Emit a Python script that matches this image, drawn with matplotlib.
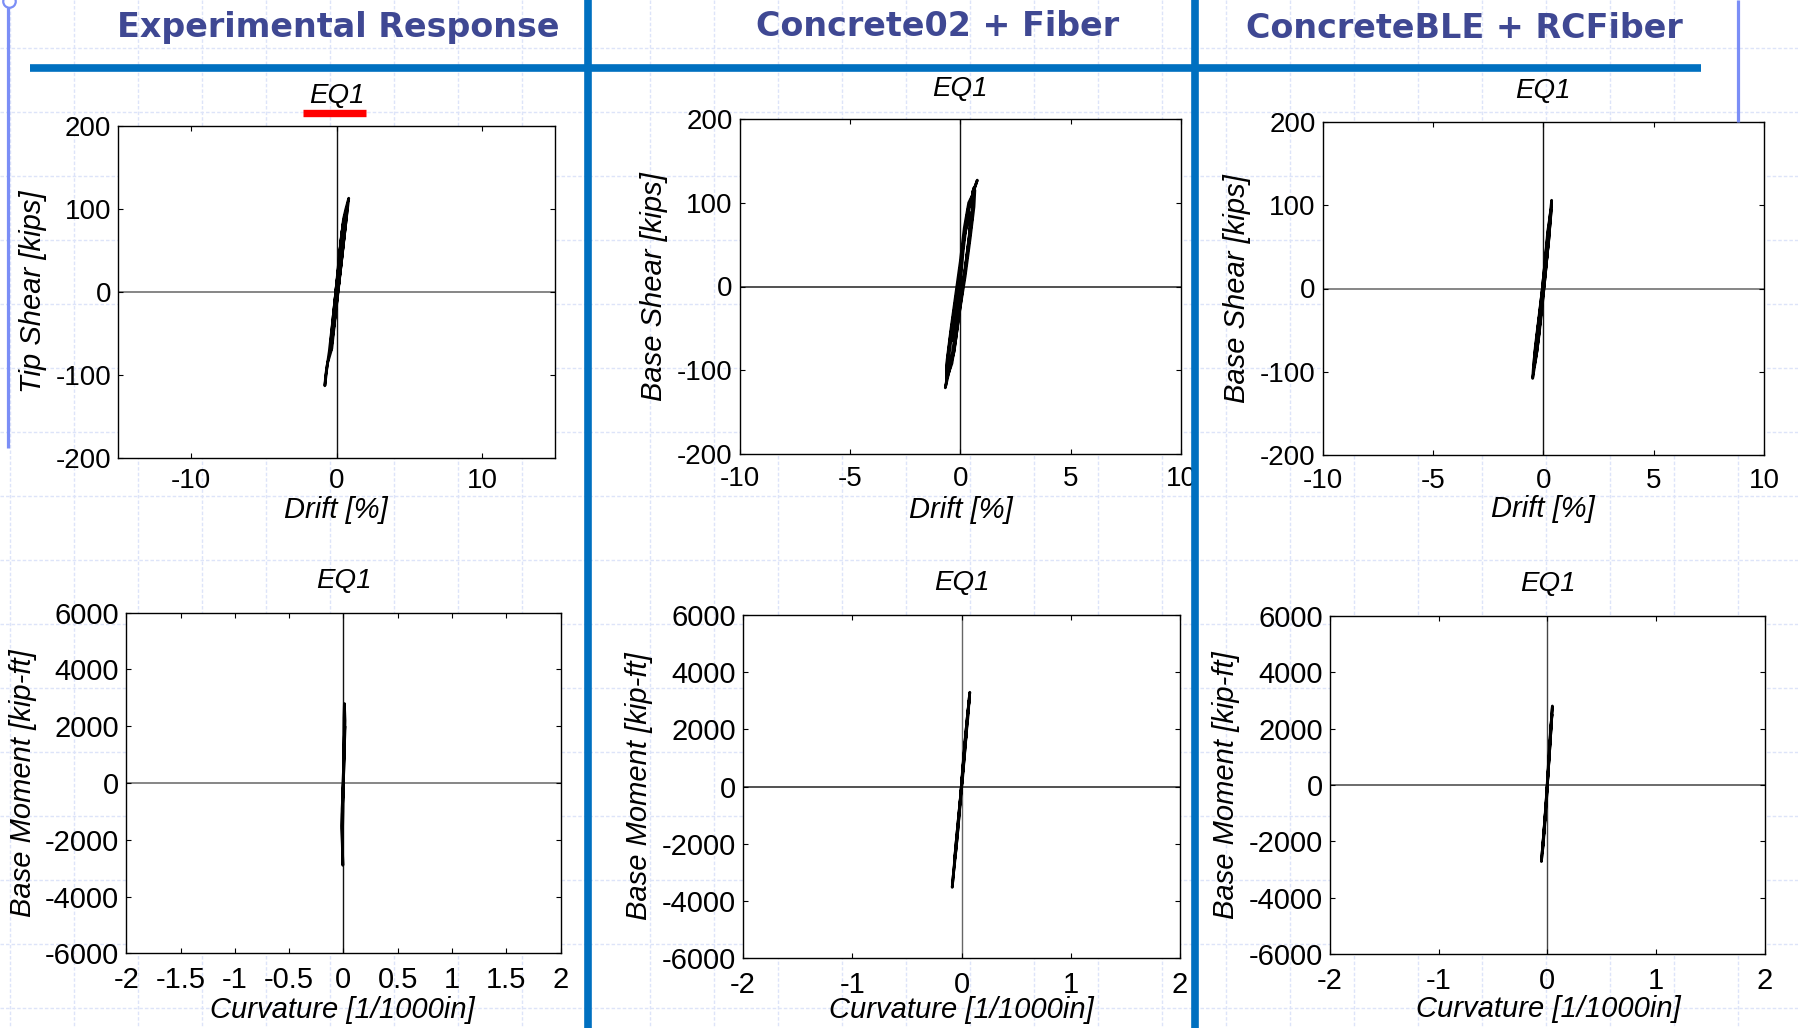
import matplotlib
matplotlib.use('Agg')
import matplotlib.pyplot as plt
from matplotlib.lines import Line2D

W, H = 1798, 1028
plt.rcParams['font.family'] = ['Liberation Sans', 'DejaVu Sans']
plt.rcParams['axes.unicode_minus'] = False

# ---------------- data ----------------
section_titles = ['Experimental Response', 'Concrete02 + Fiber', 'ConcreteBLE + RCFiber']
panel_title = 'EQ1'

# Experimental: drift [%] vs tip shear [kips]
exp_drift = [0, 0.22, 0.48, 0.64, 0.84, 0.72, 0.45, 0.12, -0.12, -0.32, -0.62, -0.80, -0.74, -0.5,
             -0.28, -0.05, 0.2, 0.45, 0.75, 0.68, 0.4, 0.08, -0.18, -0.38, -0.4, -0.2, 0.08, 0.35,
             0.65, 0.6, 0.3, -0.02, -0.3, -0.28, -0.02, 0.22, 0.2, 0.02, 0]
exp_shear = [0, 48, 88, 100, 113, 95, 55, 5, -35, -68, -86, -113, -100, -72,
             -38, 0, 45, 82, 104, 90, 45, -2, -42, -70, -62, -25, 20, 70,
             98, 80, 30, -20, -55, -45, 5, 40, 15, -8, 0]

# Concrete02 + Fiber: drift vs base shear
c02_drift = [0, 0.12, 0.3, 0.5, 0.77, 0.7, 0.55, 0.62, 0.58, 0.4, 0.2, -0.05, -0.25, -0.45,
             -0.68, -0.62, -0.6, -0.42, -0.2, 0.0, 0.18, 0.38, 0.66, 0.62, 0.45, 0.22, -0.02,
             -0.2, -0.38, -0.62, -0.62, -0.45, -0.22, 0.02, 0.2, 0.35, 0.58, 0.55, 0.35, 0.12,
             -0.1, -0.28, -0.52, -0.5, -0.28, -0.02, 0.18, 0.45, 0.42, 0.22, 0.0, -0.3, -0.28, 0]
c02_shear = [0, 40, 80, 105, 127, 122, 112, 118, 100, 60, 15, -25, -60, -95,
             -121, -112, -88, -50, -8, 30, 70, 100, 115, 95, 58, 12, -28,
             -62, -92, -110, -96, -60, -18, 25, 65, 92, 108, 85, 45, 0,
             -42, -78, -100, -80, -35, 18, 60, 88, 62, 22, -20, -65, -48, 0]

# ConcreteBLE + RCFiber: drift vs base shear
ble_drift = [0, 0.12, 0.24, 0.38, 0.36, 0.25, 0.1, -0.05, -0.2, -0.34, -0.48, -0.45, -0.36, -0.2,
             -0.04, 0.08, 0.2, 0.35, 0.32, 0.18, 0.03, -0.14, -0.28, -0.42, -0.4, -0.24, -0.06,
             0.1, 0.25, 0.26, 0.1, -0.06, -0.22, -0.35, -0.26, 0]
ble_shear = [0, 35, 70, 106, 92, 62, 18, -22, -58, -85, -108, -96, -70, -35,
             0, 32, 68, 95, 80, 40, 0, -40, -75, -95, -82, -48, -5,
             38, 75, 60, 22, -18, -60, -80, -50, 0]

# Experimental: curvature [1/1000in] vs base moment [kip-ft]
exp_curv = [0, 0.005, 0.012, 0.015, 0.009, 0.005, 0.003, 0.001, -0.004, -0.012, -0.015, -0.010,
            -0.005, -0.008, -0.012, -0.008, -0.002, 0.004, 0.010, 0.013, 0.008, 0.002, -0.005,
            -0.010, -0.009, -0.004, 0]
exp_moment = [0, 800, 1600, 2200, 2800, 2300, 1500, 600, -300, -900, -1500, -2200,
              -2900, -2400, -1600, -800, -200, 500, 1300, 2000, 1600, 700, -400,
              -1100, -1800, -1000, 0]

# Concrete02 + Fiber: curvature vs base moment
c02_curv = [0, 0.015, 0.03, 0.048, 0.062, 0.076, 0.068, 0.05, 0.03, 0.01, -0.01, -0.03, -0.05,
            -0.068, -0.085, -0.075, -0.058, -0.038, -0.018, 0.002, 0.022, 0.04, 0.058, 0.07,
            0.055, 0.035, 0.012, -0.008, -0.028, -0.048, -0.065, -0.05, -0.03, -0.01, 0.01,
            0.03, 0.045, 0.03, 0.01, 0]
c02_moment = [0, 700, 1400, 2100, 2700, 3300, 3000, 2300, 1500, 500, -400, -1200, -2000,
              -2800, -3520, -3100, -2500, -1700, -800, 100, 900, 1700, 2400, 3000,
              2500, 1700, 700, -300, -1100, -1900, -2600, -2200, -1400, -500, 300,
              1200, 1900, 1400, 500, 0]

# ConcreteBLE + RCFiber: curvature vs base moment
ble_curv = [0, 0.01, 0.022, 0.035, 0.046, 0.04, 0.028, 0.015, 0.003, -0.01, -0.025, -0.04,
            -0.055, -0.048, -0.035, -0.02, -0.006, 0.008, 0.02, 0.032, 0.042, 0.03, 0.018,
            0.004, -0.01, -0.022, -0.036, -0.046, -0.034, -0.018, -0.004, 0]
ble_moment = [0, 600, 1300, 2100, 2800, 2500, 1800, 1000, 200, -600, -1300, -2000,
              -2720, -2400, -1800, -1000, -250, 500, 1200, 1900, 2500, 2000, 1300,
              400, -500, -1200, -1900, -2400, -1900, -1100, -300, 0]

drift_ticks_exp = [-10, 0, 10]
drift_labels_exp = ['-10', '0', '10']
drift_ticks_sim = [-10, -5, 0, 5, 10]
drift_labels_sim = ['-10', '-5', '0', '5', '10']
shear_ticks = [-200, -100, 0, 100, 200]
shear_labels = ['-200', '-100', '0', '100', '200']
curv_ticks_exp = [-2, -1.5, -1, -0.5, 0, 0.5, 1, 1.5, 2]
curv_labels_exp = ['-2', '-1.5', '-1', '-0.5', '0', '0.5', '1', '1.5', '2']
curv_ticks_sim = [-2, -1, 0, 1, 2]
curv_labels_sim = ['-2', '-1', '0', '1', '2']
moment_ticks = [-6000, -4000, -2000, 0, 2000, 4000, 6000]
moment_labels = ['-6000', '-4000', '-2000', '0', '2000', '4000', '6000']

# ---------------- figure ----------------
fig = plt.figure(figsize=(W / 100, H / 100), dpi=100)
fig.patch.set_facecolor('white')


def fx(px):
    return px / W


def fy(py):
    return 1 - py / H


def fline(xs, ys, **kw):
    fig.add_artist(Line2D([fx(v) for v in xs], [fy(v) for v in ys],
                          transform=fig.transFigure, **kw))


# slide background grid
gx = 9.7
while gx < W:
    fline([gx, gx], [0, H], color='#dde4f9', lw=1.0, ls=(0, (2.5, 1.5)), zorder=-5)
    gx += 64
gy = 47.7
while gy < H:
    fline([0, W], [gy, gy], color='#dde4f9', lw=1.0, ls=(0, (2.5, 1.5)), zorder=-5)
    gy += 64

# slide decorations
fline([8.3, 8.3], [0, 448], color='#7b8ef6', lw=2.3, zorder=3, solid_capstyle='butt')
fline([1737.7, 1737.7], [0, 121.7], color='#7b8ef6', lw=2.3, zorder=3, solid_capstyle='butt')
fig.add_artist(Line2D([fx(9)], [fy(1)], transform=fig.transFigure, marker='o', ms=9,
                      mfc='white', mec='#7b8ef6', mew=1.6, zorder=4))
fline([30, 1700.8], [68, 68], color='#0070c0', lw=5.5, zorder=10, solid_capstyle='butt')
fline([587.5, 587.5], [0, H], color='#0070c0', lw=5.5, zorder=10, solid_capstyle='butt')
fline([1195, 1195], [0, H], color='#0070c0', lw=5.5, zorder=10, solid_capstyle='butt')

title_pos = [(338.7, 37.3), (937.5, 36.5), (1464.5, 38.3)]
for t, (cx, by) in zip(section_titles, title_pos):
    fig.text(fx(cx), fy(by), t, ha='center', va='baseline', fontsize=24,
             fontweight='bold', color='#3f4893', family='DejaVu Sans', zorder=11)

panels = [
    dict(box=(118, 126, 555, 458), x=exp_drift, y=exp_shear, xlim=(-15, 15), ylim=(-200, 200),
         xt=drift_ticks_exp, xl=drift_labels_exp, yt=shear_ticks, yl=shear_labels,
         xlabel='Drift [%]', ylabel='Tip Shear [kips]', tpad=16.3, fs=20, xpad=7,
         xlab=(336, 517.6), ylab=(41, 292), zc=('#111111', '#666666')),
    dict(box=(739.6, 119, 1181, 454), x=c02_drift, y=c02_shear, xlim=(-10, 10), ylim=(-200, 200),
         xt=drift_ticks_sim, xl=drift_labels_sim, yt=shear_ticks, yl=shear_labels,
         xlabel='Drift [%]', ylabel='Base Shear [kips]', tpad=16.6, fs=20, xpad=9,
         xlab=(961, 517.6), ylab=(662, 286.5), zc=('#111111', '#222222')),
    dict(box=(1322.5, 122, 1764, 455), x=ble_drift, y=ble_shear, xlim=(-10, 10), ylim=(-200, 200),
         xt=drift_ticks_sim, xl=drift_labels_sim, yt=shear_ticks, yl=shear_labels,
         xlabel='Drift [%]', ylabel='Base Shear [kips]', tpad=17, fs=20, xpad=9,
         xlab=(1543, 517), ylab=(1245, 288.5), zc=('#111111', '#666666')),
    dict(box=(126.3, 612.7, 560.5, 953.3), x=exp_curv, y=exp_moment, xlim=(-2, 2), ylim=(-6000, 6000),
         xt=curv_ticks_exp, xl=curv_labels_exp, yt=moment_ticks, yl=moment_labels,
         xlabel='Curvature [1/1000in]', ylabel='Base Moment [kip-ft]', tpad=17.6, fs=21, xpad=9.5,
         xlab=(342.5, 1017.6), ylab=(31, 783), zc=('#111111', '#666666')),
    dict(box=(743, 615, 1180, 958.3), x=c02_curv, y=c02_moment, xlim=(-2, 2), ylim=(-6000, 6000),
         xt=curv_ticks_sim, xl=curv_labels_sim, yt=moment_ticks, yl=moment_labels,
         xlabel='Curvature [1/1000in]', ylabel='Base Moment [kip-ft]', tpad=18, fs=21, xpad=9.5,
         xlab=(961.5, 1018), ylab=(647, 786.6), zc=('#666666', '#222222')),
    dict(box=(1330, 615.8, 1764.8, 954), x=ble_curv, y=ble_moment, xlim=(-2, 2), ylim=(-6000, 6000),
         xt=curv_ticks_sim, xl=curv_labels_sim, yt=moment_ticks, yl=moment_labels,
         xlabel='Curvature [1/1000in]', ylabel='Base Moment [kip-ft]', tpad=17.9, fs=21, xpad=9.5,
         xlab=(1548, 1017), ylab=(1234, 785), zc=('#444444', '#444444')),
]

for p in panels:
    L, T, R, B = p['box']
    ax = fig.add_axes([fx(L), fy(B), (R - L) / W, (B - T) / H])
    ax.set_facecolor('white')
    ax.axvline(0, color=p['zc'][0], lw=1.0, zorder=1)
    ax.axhline(0, color=p['zc'][1], lw=1.1, zorder=1)
    ax.plot(p['x'], p['y'], color='black', lw=2.0, zorder=3, solid_joinstyle='round')
    ax.set_xlim(*p['xlim'])
    ax.set_ylim(*p['ylim'])
    ax.set_xticks(p['xt'])
    ax.set_xticklabels(p['xl'])
    ax.set_yticks(p['yt'])
    ax.set_yticklabels(p['yl'])
    ax.tick_params(axis='both', direction='in', top=True, right=True, length=3.6,
                   width=0.8, labelsize=p['fs'], colors='black')
    ax.tick_params(axis='x', pad=p['xpad'])
    ax.tick_params(axis='y', pad=5)
    for s in ax.spines.values():
        s.set_linewidth(1.0)
        s.set_color('black')
    ax.set_title(panel_title, fontsize=20, style='italic', pad=p['tpad'])
    ax.set_xlabel(p['xlabel'], fontsize=21, style='italic')
    ax.xaxis.label.set_va('baseline')
    ax.xaxis.set_label_coords(fx(p['xlab'][0]), fy(p['xlab'][1]), transform=fig.transFigure)
    ax.set_ylabel(p['ylabel'], fontsize=21, style='italic')
    ax.yaxis.label.set_va('baseline')
    ax.yaxis.set_label_coords(fx(p['ylab'][0]), fy(p['ylab'][1]), transform=fig.transFigure)

# red underline under the first panel title
fline([303, 365.5], [113, 113], color='#ff0000', lw=5.3, zorder=12, solid_capstyle='butt')

fig.savefig('out.png', dpi=100, facecolor='white')
